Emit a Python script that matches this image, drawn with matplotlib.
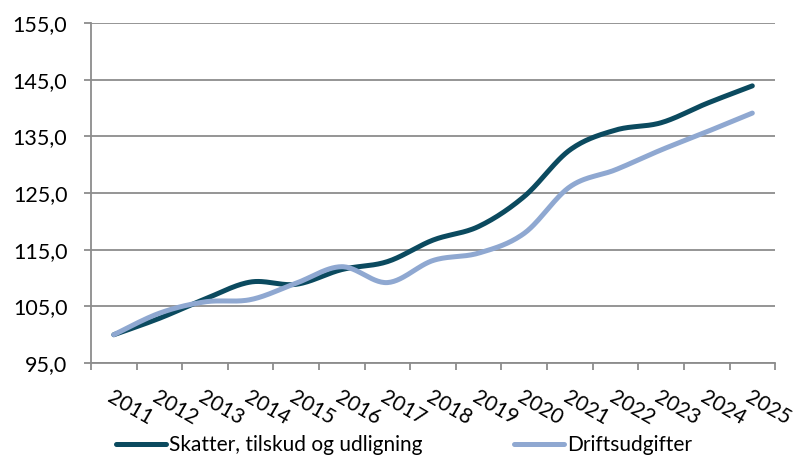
import numpy as np
import matplotlib.pyplot as plt
from matplotlib.ticker import FixedLocator, FuncFormatter

years = ['2011', '2012', '2013', '2014', '2015', '2016', '2017', '2018',
         '2019', '2020', '2021', '2022', '2023', '2024', '2025']
skatter = [100.0, 102.9, 106.3, 109.3, 108.9, 111.5, 112.9, 116.7,
           119.1, 124.4, 132.6, 136.1, 137.4, 140.8, 143.9]
drift = [100.0, 103.8, 105.8, 106.2, 109.1, 112.0, 109.2, 113.1,
         114.4, 117.9, 126.1, 129.1, 132.6, 135.8, 139.1]

DARK = '#0B4A5F'
LIGHT = '#8FA8D1'
GRID = '#8C8C8C'


def smooth(x, y, n=30):
    # Bezier smoothing like spreadsheet "smoothed line"
    x = np.asarray(x, float)
    y = np.asarray(y, float)
    px = np.concatenate([[x[0]], x, [x[-1]]])
    py = np.concatenate([[y[0]], y, [y[-1]]])
    xs, ys = [], []
    t = np.linspace(0, 1, n)
    for i in range(1, len(px) - 2):
        p0 = np.array([px[i], py[i]])
        p3 = np.array([px[i + 1], py[i + 1]])
        p1 = p0 + (p3 - np.array([px[i - 1], py[i - 1]])) / 6
        p2 = p3 - (np.array([px[i + 2], py[i + 2]]) - p0) / 6
        b = ((1 - t) ** 3)[:, None] * p0 + (3 * (1 - t) ** 2 * t)[:, None] * p1 \
            + (3 * (1 - t) * t ** 2)[:, None] * p2 + (t ** 3)[:, None] * p3
        xs.append(b[:, 0])
        ys.append(b[:, 1])
    return np.concatenate(xs), np.concatenate(ys)


plt.rcParams['font.family'] = ['Lato', 'DejaVu Sans']

fig = plt.figure(figsize=(7.95, 4.59), dpi=100)
ax = fig.add_axes([0.1145, 0.209, 0.8605, 0.741])

x = np.arange(len(years))
for vals, col, lab in [(skatter, DARK, 'Skatter, tilskud og udligning'),
                       (drift, LIGHT, 'Driftsudgifter')]:
    sx, sy = smooth(x, vals)
    ax.plot(sx, sy, color=col, lw=3.6, solid_capstyle='round', label=lab, zorder=3)

ax.set_xlim(-0.5, len(years) - 0.5)
ax.set_ylim(95, 155)
ax.set_yticks(np.arange(95, 156, 10))
ax.yaxis.set_major_formatter(FuncFormatter(lambda v, p: f'{v:.1f}'.replace('.', ',')))
ax.grid(axis='y', color=GRID, lw=1.3)
ax.set_axisbelow(True)

ax.xaxis.set_major_locator(FixedLocator(np.arange(-0.5, len(years), 1.0)))
ax.xaxis.set_minor_locator(FixedLocator(x))
ax.set_xticklabels([])
ax.set_xticks(x, minor=True)
ax.set_xticklabels(years, minor=True, rotation=-30, ha='left', va='top',
                   rotation_mode='anchor', fontsize=15)
ax.tick_params(axis='x', which='minor', length=0, pad=17)
ax.tick_params(axis='x', which='major', length=5, width=1.3, color=GRID)
ax.tick_params(axis='y', length=5, width=1.3, color=GRID, labelsize=15.5, pad=12)

for s in ['top', 'right']:
    ax.spines[s].set_visible(False)
for s in ['left', 'bottom']:
    ax.spines[s].set_color(GRID)
    ax.spines[s].set_linewidth(1.3)

fig.legend(loc='center', bbox_to_anchor=(0.508, 0.03), ncol=2, frameon=False,
           fontsize=15, handlelength=2.4, handletextpad=0.15, columnspacing=4.4)

fig.savefig('out.png', dpi=100)
